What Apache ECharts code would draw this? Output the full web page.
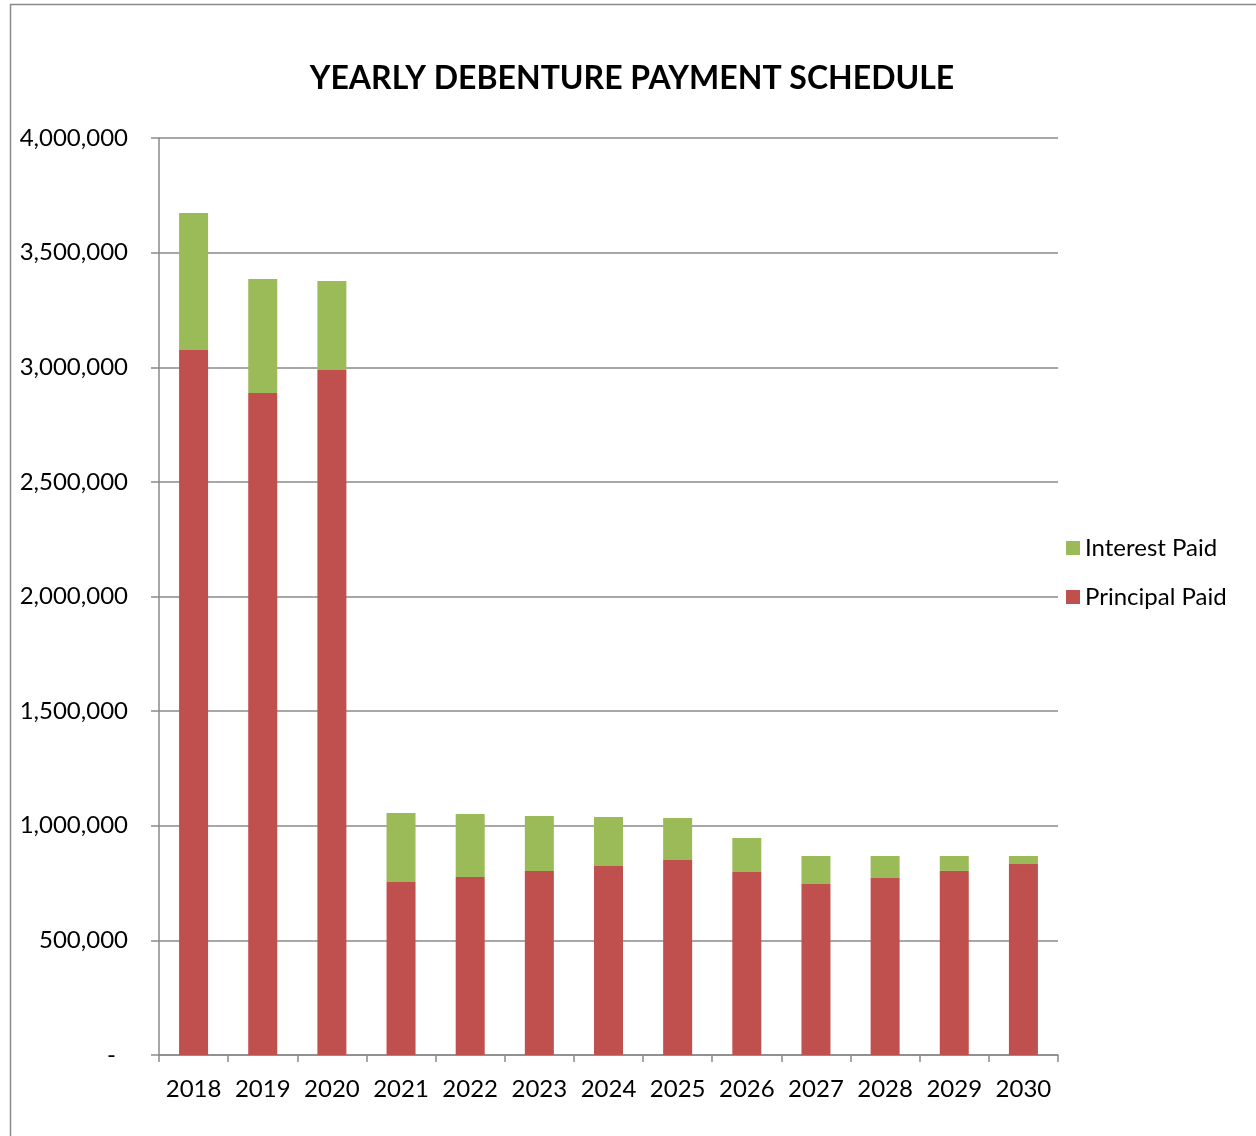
<!DOCTYPE html>
<html>
<head>
<meta charset="utf-8">
<script src="https://cdn.jsdelivr.net/npm/echarts@6/dist/echarts.min.js"></script>
<style>
html,body{margin:0;padding:0;background:#fff;}
#chart{width:1256px;height:1136px;}
</style>
</head>
<body>
<div id="chart"></div>
<script>
const years = ['2018','2019','2020','2021','2022','2023','2024','2025','2026','2027','2028','2029','2030'];
const principalPaid = [3075000, 2888000, 2988000, 755000, 776000, 803000, 824000, 851000, 798000, 746000, 772000, 803000, 833000];
const interestPaid  = [598000, 497000, 388000, 301000, 275000, 240000, 214000, 183000, 149000, 122000, 96000, 65000, 35000];
const yTicks = [0, 500000, 1000000, 1500000, 2000000, 2500000, 3000000, 3500000, 4000000];

const FONT = 'Lato, "Open Sans", sans-serif';
const chart = echarts.init(document.getElementById('chart'));
chart.setOption({
  animation: false,
  backgroundColor: '#fff',
  textStyle: {fontFamily: FONT},
  graphic: [{
    type: 'rect', shape: {x: 10.5, y: 4.5, width: 1400, height: 1300},
    style: {fill: 'none', stroke: '#8a8a8a', lineWidth: 1.5}, silent: true
  }],
  title: {
    text: 'YEARLY DEBENTURE PAYMENT SCHEDULE',
    left: 627, textAlign: 'center', top: 58,
    textStyle: {fontFamily: FONT, fontSize: 32, fontWeight: 'bold', color: '#000'}
  },
  legend: {
    orient: 'vertical', left: 1061, top: 531,
    data: ['Interest Paid', 'Principal Paid'],
    icon: 'rect', itemWidth: 14, itemHeight: 14, itemGap: 25,
    textStyle: {fontFamily: FONT, fontSize: 24, color: '#000'}
  },
  grid: {left: 159, right: 198, top: 138, bottom: 81, containLabel: false},
  xAxis: {
    type: 'category', data: years,
    axisLine: {lineStyle: {color: '#8a8a8a', width: 1.5}},
    axisTick: {show: true, length: 7, interval: 0, alignWithLabel: false, lineStyle: {color: '#8a8a8a', width: 1.5}},
    axisLabel: {fontFamily: FONT, fontSize: 24, color: '#000', margin: 22, interval: 0}
  },
  yAxis: {
    type: 'value', min: 0, max: 4000000, interval: 500000,
    axisLine: {show: true, lineStyle: {color: '#8a8a8a', width: 1.5}},
    axisTick: {show: true, length: 8, lineStyle: {color: '#8a8a8a', width: 1.5}},
    splitLine: {show: true, lineStyle: {color: '#8a8a8a', width: 1.5}},
    axisLabel: {
      fontFamily: FONT, fontSize: 24, color: '#000', margin: 31,
      formatter: v => v === 0 ? '{z|-}' : v.toLocaleString('en-US'),
      rich: {z: {fontFamily: FONT, fontSize: 24, color: '#000', padding: [0, 12, 0, 0]}}
    }
  },
  series: [
    {name: 'Principal Paid', type: 'bar', stack: 'total', data: principalPaid, barWidth: 29,
     itemStyle: {color: '#C0504D'}},
    {name: 'Interest Paid', type: 'bar', stack: 'total', data: interestPaid, barWidth: 29,
     itemStyle: {color: '#9BBB59'}}
  ]
});
</script>
</body>
</html>
